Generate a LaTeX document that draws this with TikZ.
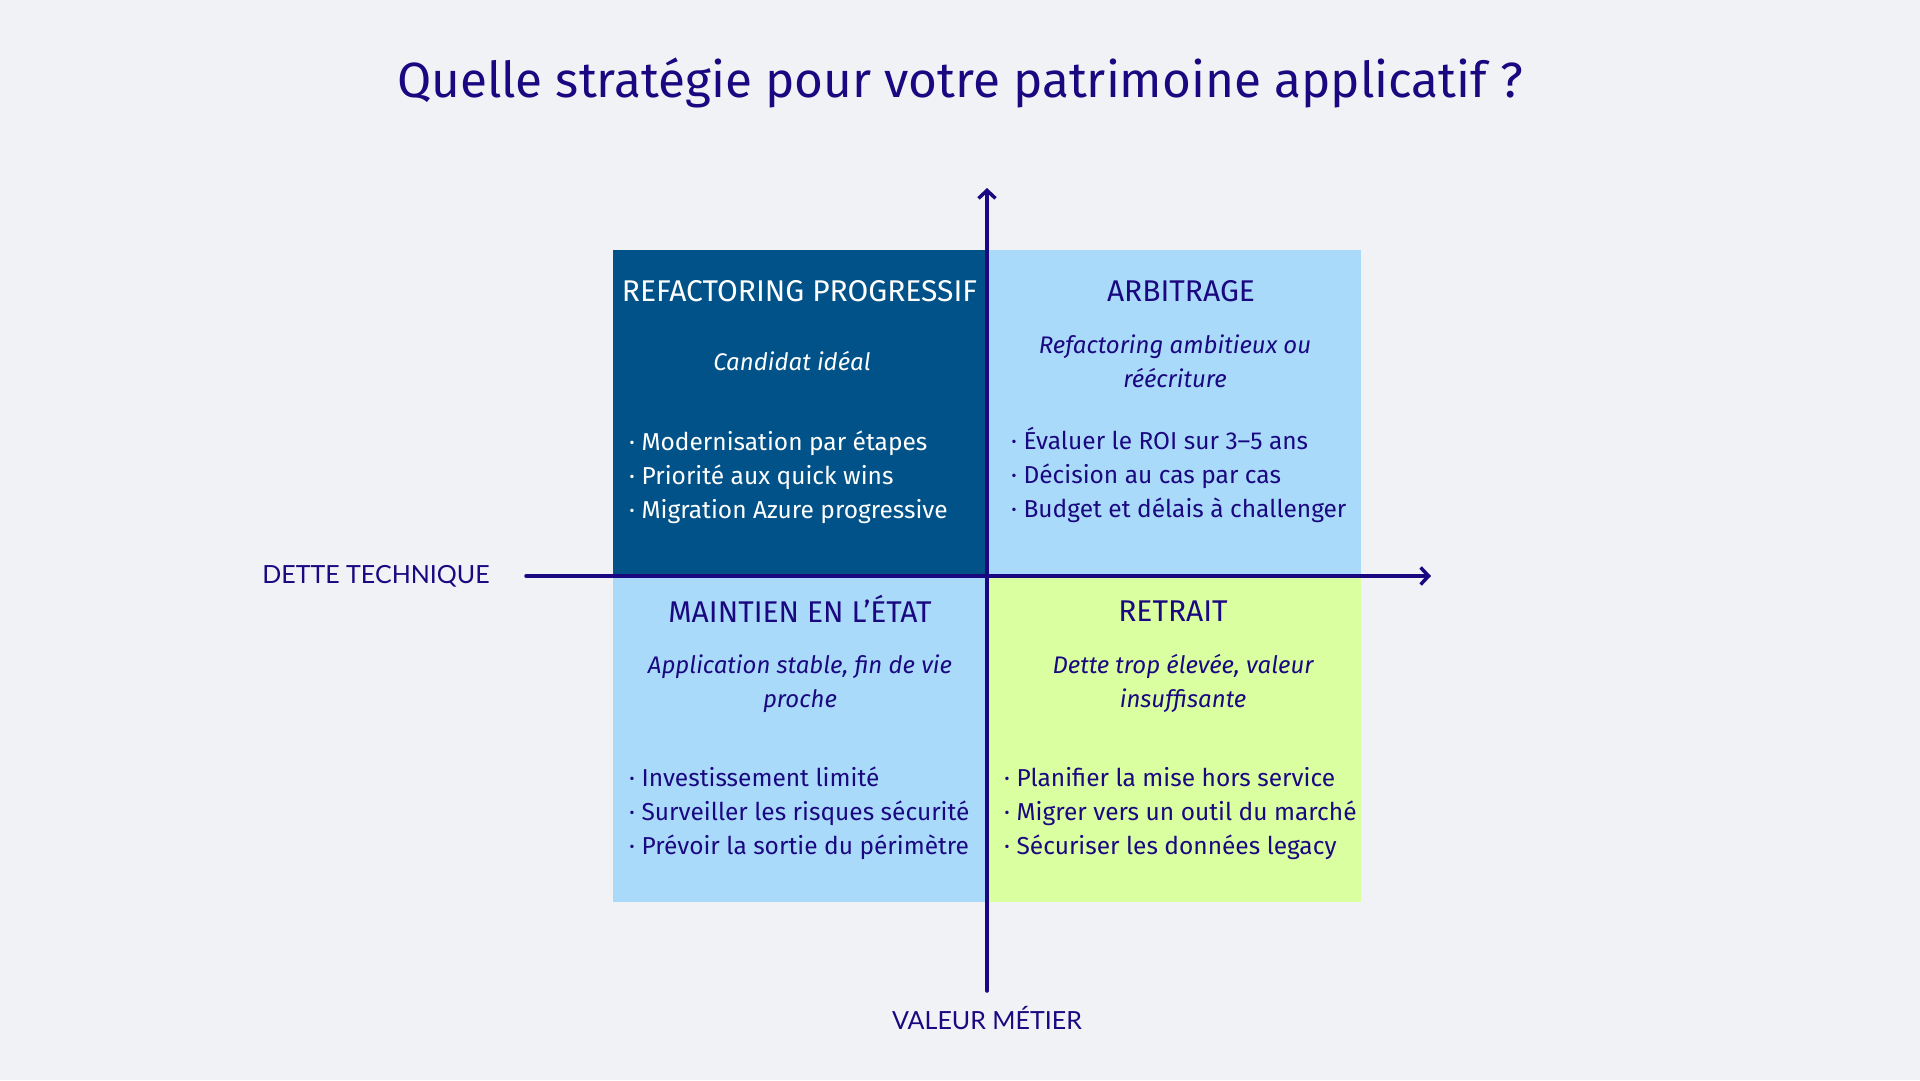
\documentclass[tikz,border=0pt]{standalone}
\usepackage{fontspec}
\setmainfont{Fira Sans}
\newfontfamily\axefont{Lato}
\usetikzlibrary{arrows.meta, positioning}
\definecolor{fond}{RGB}{240,242,246}
\definecolor{encre}{RGB}{26,8,128}
\definecolor{bleufonce}{RGB}{0,82,136}
\definecolor{bleuclair}{RGB}{170,218,250}
\definecolor{vertclair}{RGB}{218,255,160}

\begin{document}
\begin{tikzpicture}[x=1pt, y=-1pt,
		quad/.style={rectangle, minimum width=374pt, minimum height=326pt, inner sep=0pt},
		entete/.style={font=\fontsize{30}{32}\selectfont, text=encre},
		sous/.style={font=\fontsize{24}{34}\selectfont\itshape, text=encre, align=center},
		liste/.style={font=\fontsize{24.5}{34}\selectfont, text=encre, align=left, anchor=west, inner sep=0pt},
		axelabel/.style={font=\fontsize{25}{28}\selectfont\axefont, text=encre},
		axe/.style={line width=3.5pt, draw=encre, line cap=round, -{Straight Barb[length=8pt, width=17pt, line width=3.5pt]}}
	]
		\fill[fond] (0,0) rectangle (1920,1080);
		\node[font=\fontsize{49.5}{56}\selectfont, text=encre] (titre) at (960,83) {Quelle stratégie pour votre patrimoine applicatif ?};

		% quadrants
		\node[quad, fill=bleufonce] (refacto) at (799.5,413) {};
		\node[quad, fill=bleuclair] (arbitrage) at (1173.5,413) {};
		\node[quad, fill=bleuclair] (maintien) at (799.5,739) {};
		\node[quad, fill=vertclair] (retrait) at (1173.5,739) {};

		\node[entete, text=white] (t1) at (799.5,291) {REFACTORING PROGRESSIF};
		\node[sous, text=white] (s1) at (792,361) {Candidat idéal};
		\node[liste, text=white] (l1) at (629,477.5) {· Modernisation par étapes\\· Priorité aux quick wins\\· Migration Azure progressive};

		\node[entete] (t2) at (1181,291) {ARBITRAGE};
		\node[sous] (s2) at (1175,361) {Refactoring ambitieux ou\\réécriture};
		\node[liste] (l2) at (1011,475) {· Évaluer le ROI sur 3–5 ans\\· Décision au cas par cas\\· Budget et délais à challenger};

		\node[entete] (t3) at (800,609) {MAINTIEN EN L’ÉTAT};
		\node[sous] (s3) at (800,684) {Application stable, fin de vie\\proche};
		\node[liste] (l3) at (629,813.5) {· Investissement limité\\· Surveiller les risques sécurité\\· Prévoir la sortie du périmètre};

		\node[entete] (t4) at (1173,611) {RETRAIT};
		\node[sous] (s4) at (1183,683.5) {Dette trop élevée, valeur\\insuffisante};
		\node[liste] (l4) at (1004,813.5) {· Planifier la mise hors service\\· Migrer vers un outil du marché\\· Sécuriser les données legacy};

		% axes
		\coordinate (gauche) at (526,576);
		\coordinate (droite) at (1431,576);
		\coordinate (bas) at (987,991);
		\coordinate (haut) at (987,188);
		\draw[axe] (gauche) -- (droite);
		\draw[axe] (bas) -- (haut);
		\node[axelabel] (dette) at (376,576) {DETTE TECHNIQUE};
		\node[axelabel] (valeur) at (987,1018) {VALEUR MÉTIER};
\end{tikzpicture}
\end{document}
